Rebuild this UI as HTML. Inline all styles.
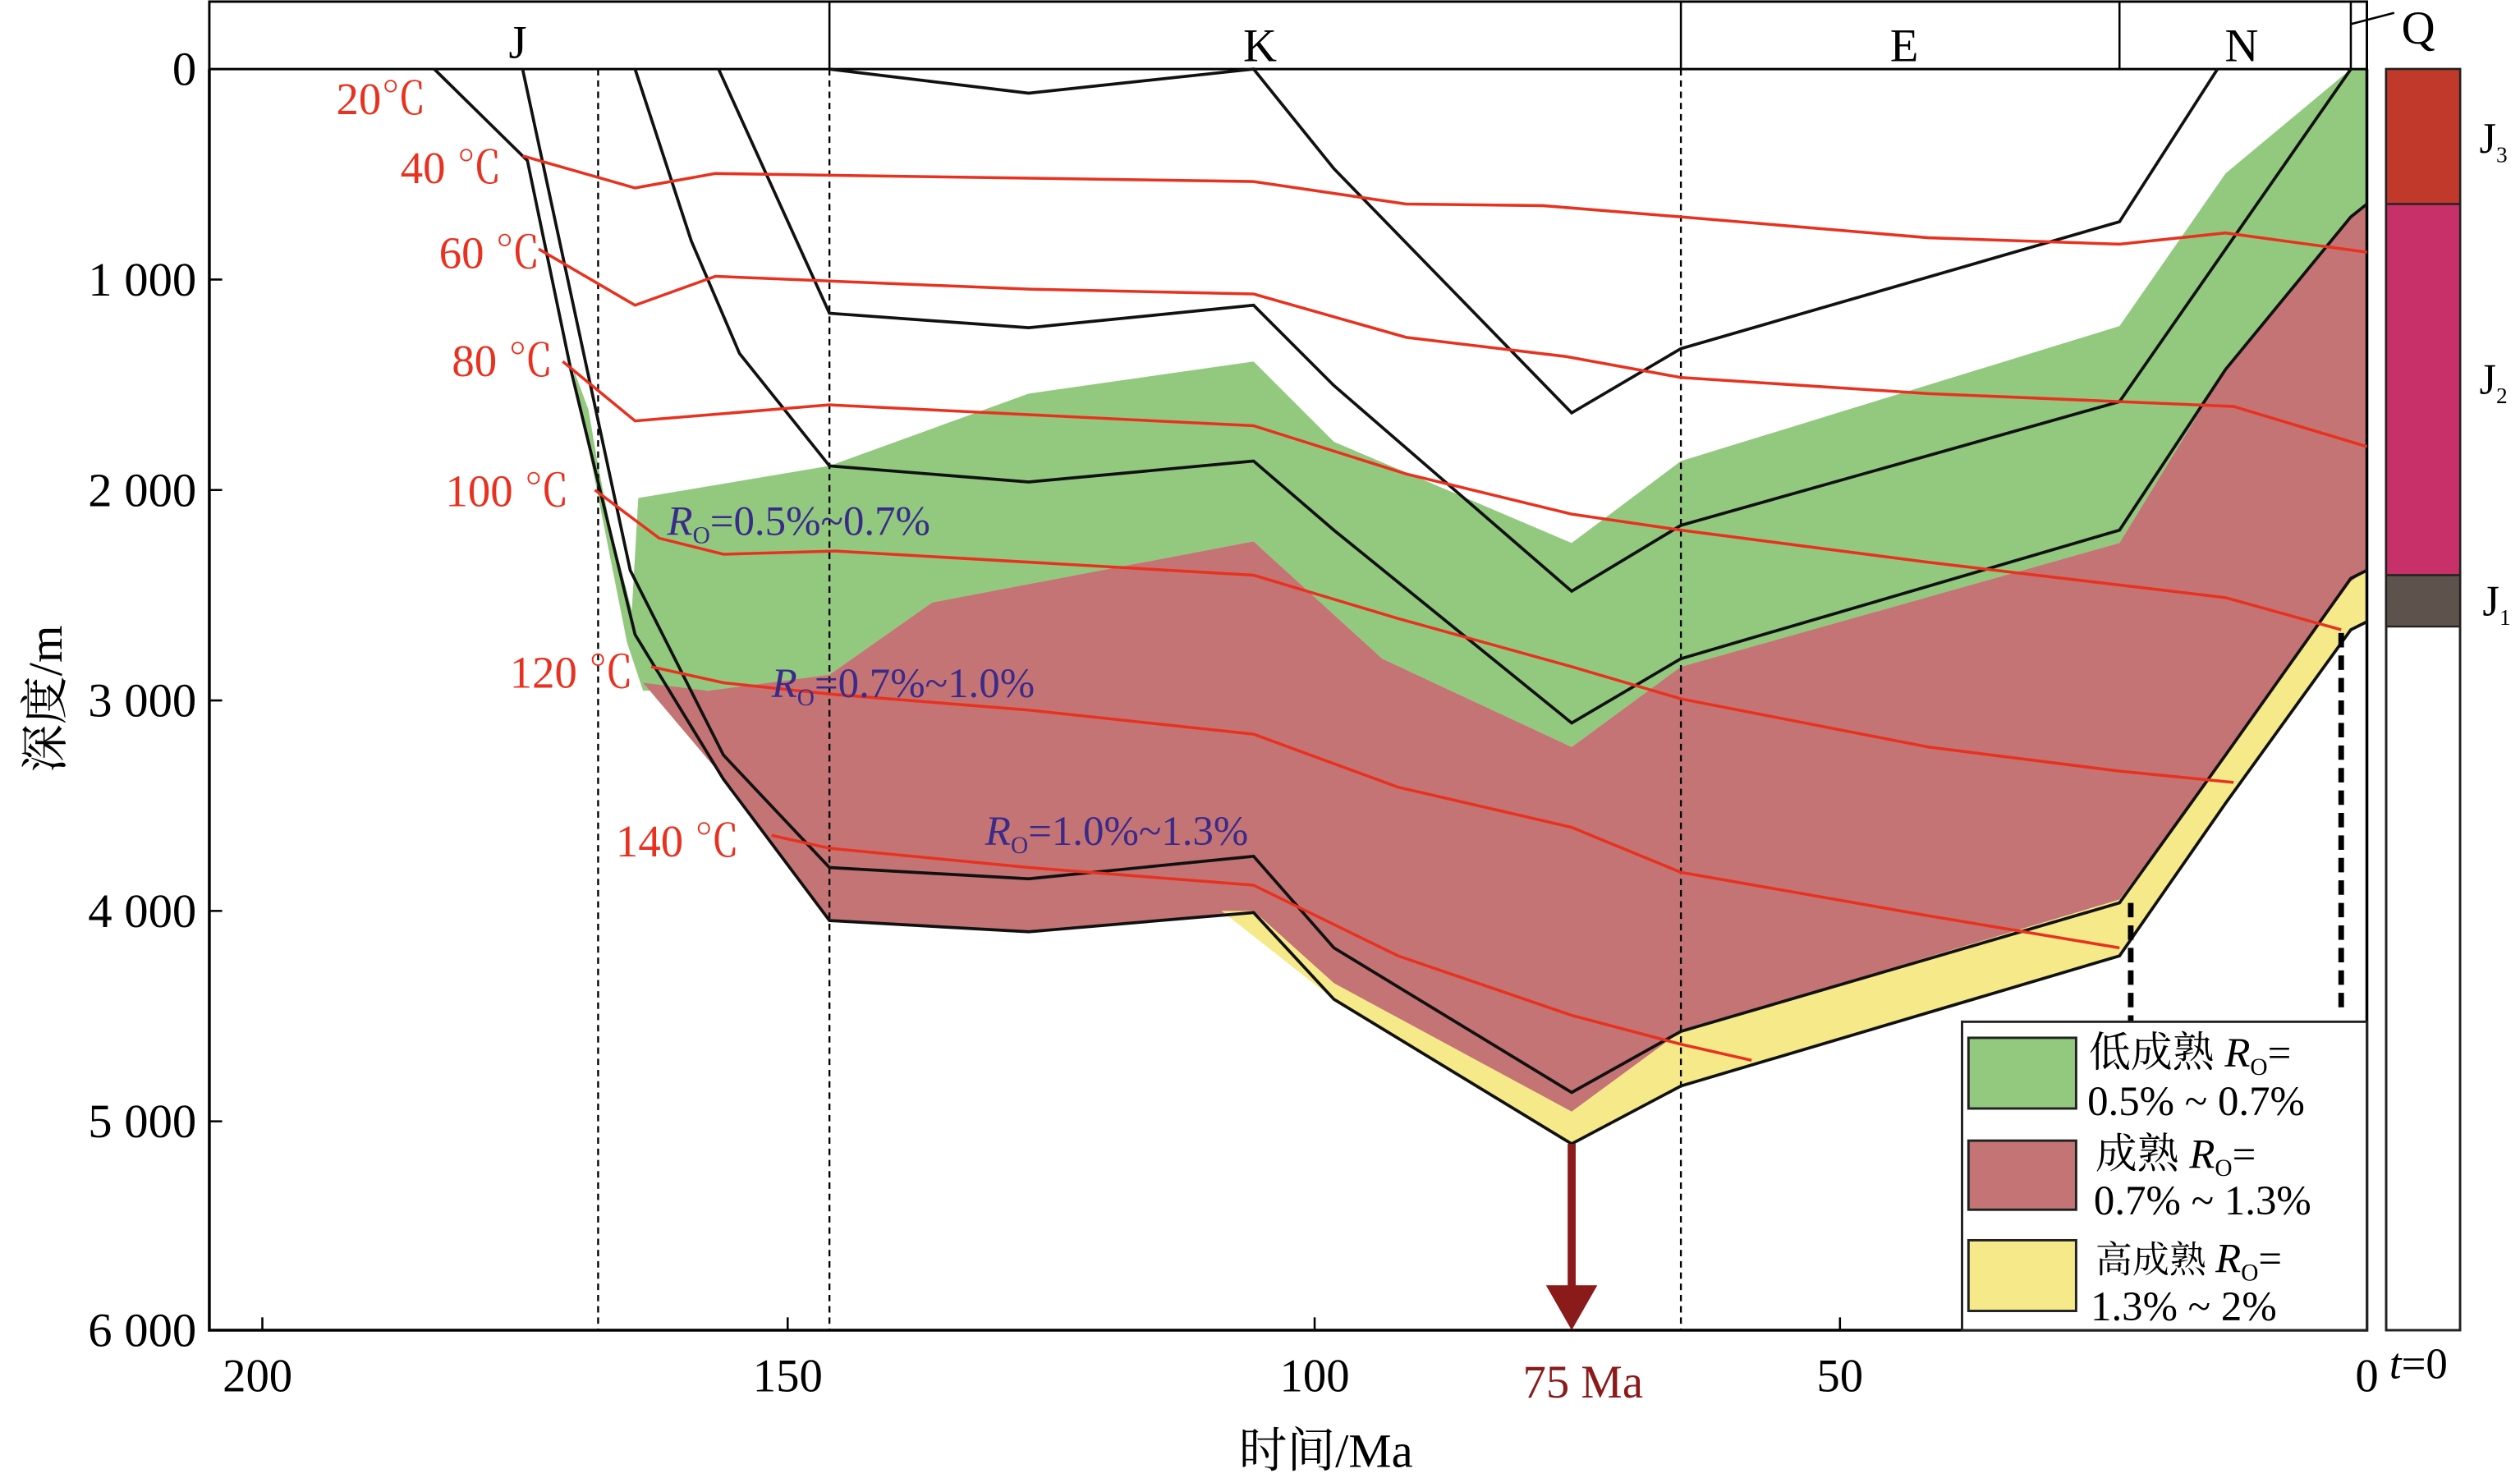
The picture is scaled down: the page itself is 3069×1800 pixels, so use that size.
<!DOCTYPE html>
<html><head><meta charset="utf-8"><style>
html,body{margin:0;padding:0;background:#fff;}
svg{display:block;}
text{font-family:"Liberation Serif","Noto Serif CJK SC",serif;}
</style></head><body>
<svg width="3069" height="1800" viewBox="0 0 1568 920" xmlns="http://www.w3.org/2000/svg">
<rect width="1568" height="920" fill="#fff"/>
<polygon fill="#92c97f" points="356,228 366,255 372,290 380,330 393,380 397,310 516,290 640,245 780,225 830,275 978,338 1046,287 1150,255 1319,203 1385,108 1463,43 1473,43 1473,127 1463,135 1385,230 1319,338 1046,415 978,465 860,410 780,337 580,375 516,420 440,430 400,430 390,400"/>
<polygon fill="#c47474" points="400,425 440,430 516,420 580,375 780,337 860,410 978,465 1046,415 1319,338 1385,230 1463,135 1473,127 1473,355 1463,362 1385,470 1319,560 1046,642 978,692 830,612 780,567 640,580 516,573 455,490"/>
<polygon fill="#f5e98a" points="760,567 780,567 830,612 978,692 1046,642 1319,560 1385,470 1463,362 1473,355 1473,387 1463,392 1385,500 1319,595 1046,676 978,712 830,622"/>
<rect x="130" y="1" width="1343" height="42" fill="none" stroke="#000" stroke-width="1.5"/>
<g stroke="#000" stroke-width="1.3">
<line x1="516" y1="1" x2="516" y2="43"/><line x1="1046" y1="1" x2="1046" y2="43"/>
<line x1="1319" y1="1" x2="1319" y2="43"/><line x1="1463" y1="1" x2="1463" y2="43"/>
<line x1="1463" y1="15" x2="1490" y2="8"/>
</g>
<g font-size="29" text-anchor="middle">
<text x="322" y="36">J</text><text x="784" y="38">K</text><text x="1185" y="38">E</text><text x="1395" y="38">N</text><text x="1505" y="27">Q</text>
</g>
<g stroke="#000" stroke-width="1.2" stroke-dasharray="4,3">
<line x1="372" y1="43" x2="372" y2="828"/><line x1="516" y1="43" x2="516" y2="828"/><line x1="1046" y1="43" x2="1046" y2="828"/>
</g>
<polyline fill="none" stroke="#000" stroke-width="1.8" points="130,43 130,828 1473,828 1473,43"/>
<g stroke="#000" stroke-width="1.3">
<line x1="130" y1="174" x2="138" y2="174"/><line x1="130" y1="305" x2="138" y2="305"/><line x1="130" y1="436" x2="138" y2="436"/><line x1="130" y1="567" x2="138" y2="567"/><line x1="130" y1="698" x2="138" y2="698"/>
<line x1="163" y1="828" x2="163" y2="820"/><line x1="490" y1="828" x2="490" y2="820"/><line x1="818" y1="828" x2="818" y2="820"/><line x1="1145" y1="828" x2="1145" y2="820"/>
</g>
<g font-size="30" text-anchor="end">
<text x="122" y="53">0</text><text x="122" y="184">1 000</text><text x="122" y="315">2 000</text><text x="122" y="446">3 000</text><text x="122" y="577">4 000</text><text x="122" y="708">5 000</text><text x="122" y="838">6 000</text>
</g>
<g font-size="29" text-anchor="middle">
<text x="160" y="866">200</text><text x="490" y="866">150</text><text x="818" y="866">100</text><text x="1145" y="866">50</text><text x="1473" y="866">0</text>
<text x="825" y="913" font-size="30">时间/Ma</text>
<text x="985" y="870" fill="#8b1a1a">75 Ma</text>
</g>
<text transform="translate(38,435) rotate(-90)" font-size="30" text-anchor="middle">深度/m</text>
<g fill="none" stroke="#111" stroke-width="1.9">
<polyline points="270,43 328,100 355,230 395,395 450,485 516,573 640,580 780,568 830,622 978,712 1046,676 1319,595 1385,500 1463,392 1473,387"/>
<polyline points="325,43 392,355 450,470 516,540 640,547 780,533 830,590 978,680 1046,642 1319,562 1385,470 1463,360 1473,355"/>
<polyline points="395,43 430,150 460,220 516,290 640,300 780,287 830,330 978,450 1046,410 1319,330 1385,230 1463,135 1473,127"/>
<polyline points="447,43 516,195 640,204 780,190 830,240 978,368 1046,327 1319,250 1463,43"/>
<polyline points="516,43 640,58 780,43 830,105 978,257 1046,217 1319,138 1380,43"/>
</g>
<g fill="none" stroke="#e8311f" stroke-width="1.8">
<polyline points="325,97 395,117 445,108 780,113 875,127 960,128 1046,135 1200,148 1319,152 1385,145 1473,157"/>
<polyline points="335,155 395,190 445,172 640,180 780,183 875,210 975,222 1046,235 1200,245 1319,250 1390,253 1473,278"/>
<polyline points="350,225 395,262 516,252 780,265 875,295 978,320 1046,330 1200,350 1385,372 1457,392"/>
<polyline points="370,305 410,335 450,345 520,343 780,358 870,385 978,415 1046,435 1200,465 1319,480 1390,487"/>
<polyline points="405,415 450,425 516,432 640,442 780,457 870,490 978,515 1046,543 1200,570 1319,590"/>
<polyline points="480,520 516,528 640,540 780,551 870,595 978,632 1046,650 1090,660"/>
</g>
<g font-size="28" fill="#e8311f">
<text x="209" y="71">20℃</text><text x="249" y="114">40 ℃</text><text x="273" y="167">60 ℃</text><text x="281" y="234">80 ℃</text><text x="277" y="315">100 ℃</text><text x="317" y="428">120 ℃</text><text x="383" y="533">140 ℃</text>
</g>
<g font-size="26" fill="#3a2a8a">
<text x="415" y="333"><tspan font-style="italic">R</tspan><tspan font-size="15" dy="5">O</tspan><tspan dy="-5">=0.5%~0.7%</tspan></text>
<text x="480" y="434"><tspan font-style="italic">R</tspan><tspan font-size="15" dy="5">O</tspan><tspan dy="-5">=0.7%~1.0%</tspan></text>
<text x="613" y="526"><tspan font-style="italic">R</tspan><tspan font-size="15" dy="5">O</tspan><tspan dy="-5">=1.0%~1.3%</tspan></text>
</g>
<g stroke="#000" stroke-width="3.5" stroke-dasharray="9,5">
<line x1="1326" y1="562" x2="1326" y2="640"/><line x1="1457" y1="394" x2="1457" y2="632"/>
</g>
<line x1="978" y1="712" x2="978" y2="802" stroke="#8b1a1a" stroke-width="5"/>
<polygon points="962,800 994,800 978,828" fill="#8b1a1a"/>
<rect x="1221" y="636" width="252" height="192" fill="#fff" stroke="#222" stroke-width="1.5"/>
<g stroke="#222" stroke-width="1.5">
<rect x="1225" y="646" width="67" height="44" fill="#92c97f"/>
<rect x="1225" y="710" width="67" height="43" fill="#c47474"/>
<rect x="1225" y="772" width="67" height="44" fill="#f5e98a"/>
</g>
<g font-size="26">
<text x="1300" y="664">低成熟 <tspan font-style="italic">R</tspan><tspan font-size="15" dy="5">O</tspan><tspan dy="-5">=</tspan></text>
<text x="1299" y="694">0.5% ~ 0.7%</text>
<text x="1304" y="727">成熟 <tspan font-style="italic">R</tspan><tspan font-size="15" dy="5">O</tspan><tspan dy="-5">=</tspan></text>
<text x="1303" y="756">0.7% ~ 1.3%</text>
<text x="1304" y="792" font-size="23">高成熟 <tspan font-style="italic" font-size="26">R</tspan><tspan font-size="15" dy="5">O</tspan><tspan dy="-5" font-size="26">=</tspan></text>
<text x="1301" y="822">1.3% ~ 2%</text>
</g>
<rect x="1485" y="43" width="46" height="785" fill="#fff" stroke="#222" stroke-width="1.5"/>
<rect x="1485" y="43" width="46" height="84" fill="#c0392b" stroke="#222" stroke-width="1.2"/>
<rect x="1485" y="127" width="46" height="231" fill="#c8306a" stroke="#222" stroke-width="1.2"/>
<rect x="1485" y="358" width="46" height="32" fill="#5e524c" stroke="#222" stroke-width="1.2"/>
<g font-size="27">
<text x="1543" y="95">J<tspan font-size="14" dy="6">3</tspan></text>
<text x="1543" y="245">J<tspan font-size="14" dy="6">2</tspan></text>
<text x="1545" y="383">J<tspan font-size="14" dy="6">1</tspan></text>
<text x="1487" y="858"><tspan font-style="italic">t</tspan>=0</text>
</g>
</svg>
</body></html>
